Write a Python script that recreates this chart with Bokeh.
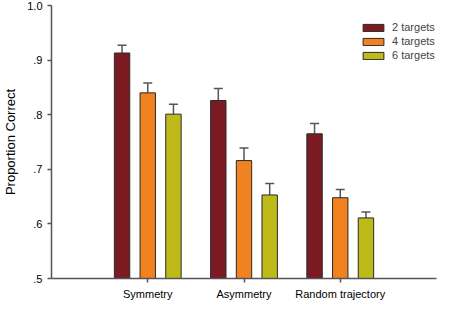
from bokeh.plotting import figure
from bokeh.models import (Range1d, FixedTicker, CustomJSTickFormatter, Whisker, TeeHead,
                          ColumnDataSource, Legend, LegendItem)
from bokeh.embed import file_html
from bokeh.resources import INLINE

categories = ["Symmetry", "Asymmetry", "Random trajectory"]
series = ["2 targets", "4 targets", "6 targets"]
means_2 = [0.913, 0.826, 0.765]
upper_2 = [0.927, 0.848, 0.784]
means_4 = [0.840, 0.716, 0.648]
upper_4 = [0.858, 0.739, 0.663]
means_6 = [0.801, 0.653, 0.611]
upper_6 = [0.819, 0.674, 0.622]
y_ticks = [0.5, 0.6, 0.7, 0.8, 0.9, 1.0]

colors = ["#7B1A21", "#F0821F", "#BDBA1A"]
offsets = [-0.267, 0.0, 0.267]
means = [means_2, means_4, means_6]
uppers = [upper_2, upper_4, upper_6]

p = figure(width=438, height=302, output_backend="svg", toolbar_location=None,
           x_range=Range1d(0, 4), y_range=Range1d(0.5, 1.0),
           min_border_left=45, min_border_right=2, min_border_top=5, min_border_bottom=20)
p.outline_line_color = None
p.xgrid.visible = False
p.ygrid.visible = False
p.background_fill_color = "white"
p.border_fill_color = "white"

font = "Liberation Sans"
axis_color = "#555555"

items = []
for i in range(3):
    xs = [k + 1 + offsets[i] for k in range(len(categories))]
    src = ColumnDataSource(dict(x=xs, top=means[i], upper=uppers[i]))
    w = Whisker(source=src, base="x", lower="top", upper="upper",
                line_color=axis_color, line_width=1.5,
                upper_head=TeeHead(size=9, line_color=axis_color, line_width=1.5),
                lower_head=None)
    p.add_layout(w)
    r = p.vbar(x="x", top="top", bottom=0.5, width=0.16, source=src,
               fill_color=colors[i], line_color="#2a2a2a", line_width=1)
    items.append(LegendItem(label=series[i], renderers=[r]))

legend = Legend(items=items, location=(309, 217), border_line_alpha=0,
                background_fill_alpha=0, label_text_font=font, label_text_font_size="11px",
                glyph_width=26, glyph_height=9, label_height=12, spacing=2, padding=0,
                margin=0, label_standoff=6)
p.add_layout(legend)

# x axis
p.xaxis.ticker = FixedTicker(ticks=[1, 2, 3])
p.xaxis.major_label_overrides = {1: categories[0], 2: categories[1], 3: categories[2]}
p.xaxis.minor_tick_line_color = None
p.xaxis.major_tick_out = 4
p.xaxis.major_tick_in = 0
p.xaxis.axis_line_color = axis_color
p.xaxis.axis_line_width = 1.5
p.xaxis.major_tick_line_color = axis_color
p.xaxis.major_tick_line_width = 1.5
p.xaxis.major_label_text_font = font
p.xaxis.major_label_text_font_size = "11px"
p.xaxis.major_label_text_color = "black"
p.xaxis.major_label_standoff = 5

# y axis
p.yaxis.ticker = FixedTicker(ticks=y_ticks)
p.yaxis.formatter = CustomJSTickFormatter(
    code="var s = tick.toFixed(1); return tick >= 1 ? s : s.substring(1);")
p.yaxis.minor_tick_line_color = None
p.yaxis.major_tick_out = 4
p.yaxis.major_tick_in = 0
p.yaxis.axis_line_color = axis_color
p.yaxis.axis_line_width = 1.5
p.yaxis.major_tick_line_color = axis_color
p.yaxis.major_tick_line_width = 1.5
p.yaxis.major_label_text_font = font
p.yaxis.major_label_text_font_size = "11px"
p.yaxis.major_label_text_color = "black"
p.yaxis.major_label_standoff = 5
p.yaxis.axis_label = "Proportion Correct"
p.yaxis.axis_label_text_font = font
p.yaxis.axis_label_text_font_size = "13px"
p.yaxis.axis_label_text_font_style = "normal"
p.yaxis.axis_label_text_color = "black"
p.yaxis.axis_label_standoff = 6

open("out.html", "w").write(file_html(p, INLINE))
